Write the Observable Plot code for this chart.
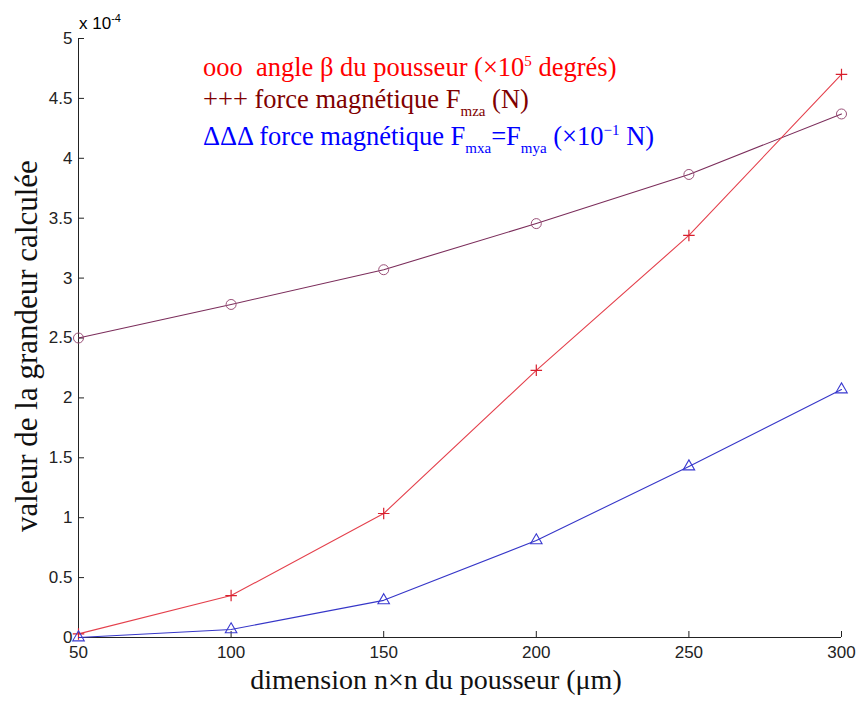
<!DOCTYPE html>
<html>
<head>
<meta charset="utf-8">
<script src="https://cdn.jsdelivr.net/npm/d3@7"></script>
<script src="https://cdn.jsdelivr.net/npm/@observablehq/plot@0.6"></script>
<style>
  body { margin: 0; background: #fff; }
  #wrap { position: relative; width: 857px; height: 704px; }
  .leg { position: absolute; left: 203px; font-family: "Liberation Serif", "Times New Roman", serif; font-size: 26.5px; white-space: nowrap; line-height: 1; }
  .leg sub { font-size: 15px; vertical-align: -8px; }
  .leg sup { font-size: 15px; vertical-align: 10px; }
  #exp { position: absolute; left: 79px; top: 13px; font-family: "Liberation Sans", Arial, sans-serif; font-size: 17px; line-height: 1; }
  #exp sup { font-size: 11px; vertical-align: 7px; }
</style>
</head>
<body>
<div id="wrap"></div>
<script>
const dims = [50, 100, 150, 200, 250, 300];
const angle = [2.50, 2.78, 3.07, 3.455, 3.865, 4.37];
const fmza = [0.03, 0.35, 1.035, 2.23, 3.356, 4.70];
const fmxa = [0, 0.067, 0.31, 0.81, 1.427, 2.07];
const xTicks = [50, 100, 150, 200, 250, 300];
const yTicks = [0, 0.5, 1, 1.5, 2, 2.5, 3, 3.5, 4, 4.5, 5];
const xLabel = "dimension n×n du pousseur (μm)";
const yLabel = "valeur de la grandeur calculée";

const rows = (ys) => dims.map((d, i) => ({x: d, y: ys[i]}));
const A = rows(angle), P = rows(fmza), T = rows(fmxa);

const chart = Plot.plot({
  width: 857,
  height: 704,
  marginLeft: 78,
  marginRight: 16,
  marginTop: 38,
  marginBottom: 67,
  x: {domain: [50, 300]},
  y: {domain: [0, 5]},
  style: {background: "white"},
  marks: [
    Plot.axisX({ticks: xTicks, tickSize: -6, tickPadding: 14, tickFormat: d => String(d), label: null,
      fontSize: 17, fontFamily: "Liberation Sans, Arial, sans-serif", stroke: "#222", color: "#222"}),
    Plot.axisY({ticks: yTicks, tickSize: -6, tickPadding: 12, tickFormat: d => String(d), label: null,
      fontSize: 17, fontFamily: "Liberation Sans, Arial, sans-serif", stroke: "#222", color: "#222"}),
    Plot.ruleY([0], {stroke: "#222"}),
    Plot.ruleX([50], {stroke: "#222"}),
    Plot.line(A, {x: "x", y: "y", stroke: "#7b2d5b", strokeWidth: 1.1}),
    Plot.dot(A, {x: "x", y: "y", r: 5, stroke: "#9a5078", fill: "none", strokeWidth: 1}),
    Plot.line(P, {x: "x", y: "y", stroke: "#e4404c", strokeWidth: 1.1}),
    Plot.dot(P, {x: "x", y: "y", symbol: "plus", r: 3.8, stroke: "#d8202e", fill: "none", strokeWidth: 1.2}),
    Plot.line(T, {x: "x", y: "y", stroke: "#3636c8", strokeWidth: 1.1}),
    Plot.dot(T, {x: "x", y: "y", symbol: "triangle2", r: 5.5, stroke: "#3a3ad0", fill: "none", strokeWidth: 1.1}),
    Plot.text([xLabel], {frameAnchor: "bottom", dy: 51, dx: -24, text: d => d, fontSize: 28, textAnchor: "middle",
      fontFamily: "Liberation Serif, Times New Roman, serif", fill: "#111"}),
    Plot.text([yLabel], {frameAnchor: "left", dx: -51, dy: 8, rotate: -90, text: d => d, fontSize: 31, textAnchor: "middle",
      fontFamily: "Liberation Serif, Times New Roman, serif", fill: "#111"})
  ]
});
const wrap = document.getElementById("wrap");
wrap.appendChild(chart);

const exp = document.createElement("div");
exp.id = "exp";
exp.innerHTML = "x 10<sup>-4</sup>";
wrap.appendChild(exp);

const legendItems = [
  {top: 54, color: "#ff0000", html: "ooo&nbsp; angle β du pousseur (×10<sup>5</sup> degrés)"},
  {top: 86, color: "#800000", html: "+++ force magnétique F<sub>mza</sub> (N)"},
  {top: 123, color: "#0000ff", html: "ΔΔΔ force magnétique F<sub>mxa</sub>=F<sub>mya</sub> (×10<sup>−1</sup> N)"}
];
for (const it of legendItems) {
  const d = document.createElement("div");
  d.className = "leg";
  d.style.top = it.top + "px";
  d.style.color = it.color;
  d.innerHTML = it.html;
  wrap.appendChild(d);
}
</script>
</body>
</html>
